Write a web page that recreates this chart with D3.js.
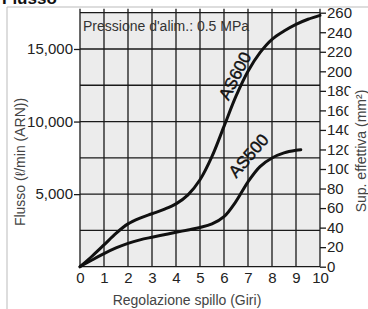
<!DOCTYPE html>
<html><head><meta charset="utf-8">
<script src="https://cdn.jsdelivr.net/npm/d3@7"></script>
<style>
body{margin:0;background:#fff;}
text{font-family:"Liberation Sans",Arial,Helvetica,sans-serif;}
</style></head>
<body><svg id="c" width="368" height="309"></svg>
<script>
// ---- data ----
const turns600 = [0,0.5,1,1.5,2,2.5,3,3.5,4,4.5,5,5.5,6,6.5,7,7.5,8,8.5,9,9.5,10];
const flow600  = [0,720,1500,2300,2950,3350,3650,3950,4330,4950,5990,7600,9670,11750,13470,14750,15670,16240,16700,17050,17320];
const turns500 = [0,0.5,1,1.5,2,2.5,3,3.5,4,4.5,5,5.5,6,6.5,7,7.5,8,8.5,9,9.2];
const flow500  = [0,460,900,1290,1610,1850,2030,2200,2370,2530,2700,2950,3450,4500,5850,6900,7490,7840,8020,8060];
const xTicks = [0,1,2,3,4,5,6,7,8,9,10];
const leftTicks = [5000,10000,15000];
const leftGrid = [0,2500,5000,7500,10000,12500,15000,17500];
const rightTicks = [0,20,40,60,80,100,120,140,160,180,200,220,240,260];
const seriesLabels = [
  {name:"AS600", t:6.45, f:13150, angle:-63},
  {name:"AS500", t:7.02, f:7650,  angle:-49}
];
const title = "Flusso";
const note = "Pressione d'alim.: 0.5 MPa";
const xTitle = "Regolazione spillo (Giri)";
const yTitle = "Flusso (ℓ/min (ARN))";
const y2Title = "Sup. effettiva (mm²)";

// ---- layout ----
const svg = d3.select("#c");
const x = d3.scaleLinear().domain([0,10]).range([80,320]);
const y = d3.scaleLinear().domain([0,17500]).range([266.7,12.7]);
const y2 = d3.scaleLinear().domain([0,260]).range([266.7,12.7]);
const ink = "#1a1a1a";

// outer frame
svg.append("line").attr("x1",7).attr("x2",7).attr("y1",7).attr("y2",309).attr("stroke","#bbb").attr("stroke-width",1);
svg.append("line").attr("x1",7).attr("x2",368).attr("y1",7).attr("y2",7).attr("stroke","#bbb").attr("stroke-width",1);
svg.append("text").attr("x",2).attr("y",4).attr("font-size",17).attr("font-weight","bold").attr("fill","#111").text(title);

// plot background
svg.append("rect").attr("x",x(0)).attr("y",y(17500)).attr("width",x(10)-x(0)).attr("height",y(0)-y(17500)).attr("fill","#ececec");

// grid
svg.append("g").selectAll("line").data(xTicks).join("line")
  .attr("x1",d=>x(d)).attr("x2",d=>x(d)).attr("y1",y(17500)-4).attr("y2",y(0))
  .attr("stroke",ink).attr("stroke-width",1.3);
svg.append("g").selectAll("line").data(leftGrid).join("line")
  .attr("x1",x(0)).attr("x2",x(10)).attr("y1",d=>y(d)).attr("y2",d=>y(d))
  .attr("stroke",ink).attr("stroke-width",1.3);

// left axis
const gl = svg.append("g").attr("transform",`translate(${x(0)},0)`)
  .call(d3.axisLeft(y).tickValues(leftTicks).tickFormat(d3.format(",")).tickSize(6).tickPadding(1));
gl.select(".domain").remove();
gl.selectAll("line").attr("stroke",ink).attr("stroke-width",1.3);
gl.selectAll("text").attr("font-size",15).attr("fill","#222").attr("font-family","'Liberation Sans',Arial,sans-serif");

// right axis
const gr = svg.append("g").attr("transform",`translate(${x(10)},0)`)
  .call(d3.axisRight(y2).tickValues(rightTicks).tickSize(6).tickPadding(1));
gr.select(".domain").remove();
gr.selectAll("line").attr("stroke",ink).attr("stroke-width",1.3);
gr.selectAll("text").attr("font-size",15).attr("fill","#222").attr("font-family","'Liberation Sans',Arial,sans-serif");

// bottom axis
const gb = svg.append("g").attr("transform",`translate(0,${y(0)})`)
  .call(d3.axisBottom(x).tickValues(xTicks).tickSize(0).tickPadding(6));
gb.select(".domain").remove();
gb.selectAll("text").attr("font-size",15).attr("fill","#222").attr("font-family","'Liberation Sans',Arial,sans-serif");

// curves
const line = d3.line().x(d=>x(d[0])).y(d=>y(d[1])).curve(d3.curveCatmullRom.alpha(0.5));
[[turns600,flow600],[turns500,flow500]].forEach(([t,f])=>{
  svg.append("path").datum(t.map((v,i)=>[v,f[i]])).attr("d",line)
    .attr("fill","none").attr("stroke","#111").attr("stroke-width",3).attr("stroke-linecap","round");
});

// series labels
svg.append("g").selectAll("text").data(seriesLabels).join("text")
  .attr("transform",d=>`translate(${x(d.t)},${y(d.f)}) rotate(${d.angle})`)
  .attr("text-anchor","middle").attr("dy","0.35em").attr("font-size",17).attr("fill","#111")
  .attr("stroke","#111").attr("stroke-width",0.4)
  .text(d=>d.name);

// note
svg.append("text").attr("x",83).attr("y",30.5).attr("font-size",14).attr("fill","#333").text(note);

// axis titles
svg.append("text").attr("x",187).attr("y",305).attr("text-anchor","middle").attr("font-size",14).attr("fill","#444").text(xTitle);
svg.append("text").attr("transform","translate(25,162) rotate(-90)").attr("text-anchor","middle").attr("font-size",14).attr("fill","#444").text(yTitle);
svg.append("rect").attr("x",348.5).attr("y",88).attr("width",20).attr("height",130).attr("fill","#fff");
svg.append("text").attr("transform","translate(366,151) rotate(-90)").attr("text-anchor","middle").attr("font-size",14).attr("fill","#444").text(y2Title);
</script></body></html>
